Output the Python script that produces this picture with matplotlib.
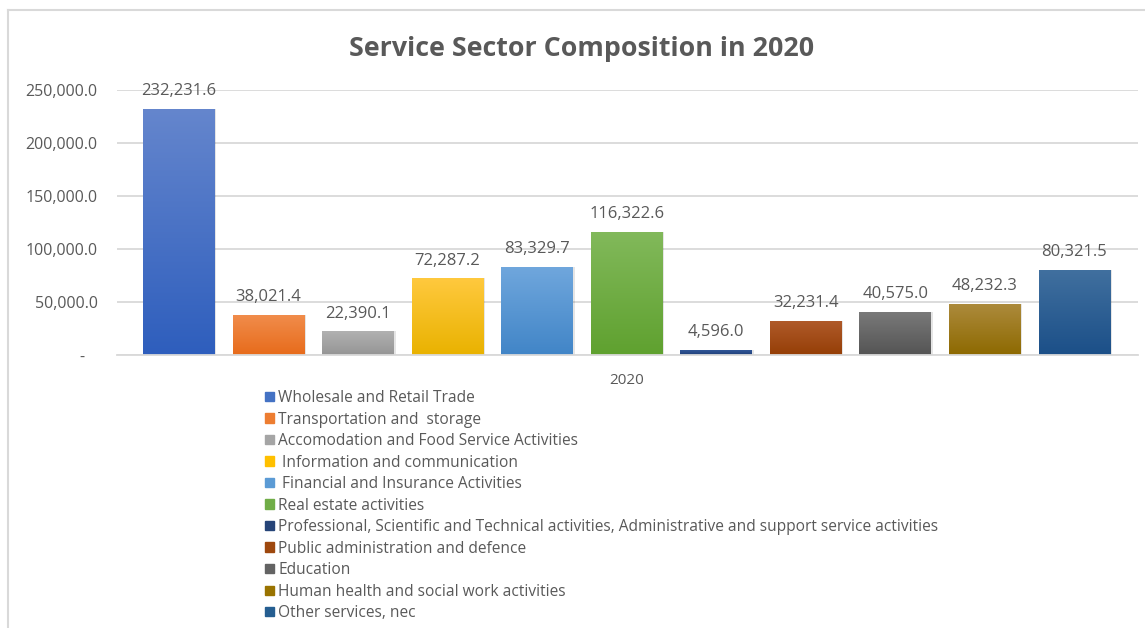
import numpy as np
import matplotlib
matplotlib.use("Agg")
import matplotlib.pyplot as plt
from matplotlib.colors import LinearSegmentedColormap
from matplotlib.lines import Line2D

plt.rcParams['font.family'] = ['Open Sans', 'DejaVu Sans']

# sector names (legend) and 2020 values
sectors = [
    "Wholesale and Retail Trade",
    "Transportation and  storage",
    "Accomodation and Food Service Activities",
    " Information and communication",
    " Financial and Insurance Activities",
    "Real estate activities",
    "Professional, Scientific and Technical activities, Administrative and support service activities",
    "Public administration and defence",
    "Education",
    "Human health and social work activities",
    "Other services, nec",
]
values = [232231.6, 38021.4, 22390.1, 72287.2, 83329.7, 116322.6,
          4596.0, 32231.4, 40575.0, 48232.3, 80321.5]
year = "2020"

# gradient (top, bottom) per bar, office-style palette
top_colors = ["#6586cd", "#f18d4c", "#b1b1b1", "#ffc93e", "#70a7dd", "#82b95b",
              "#305698", "#b05b2b", "#7a7a7a", "#ad8b3d", "#41709f"]
bottom_colors = ["#2e5ebd", "#e76b1b", "#959595", "#e9b200", "#4185c7", "#5fa12f",
                 "#203f78", "#953e06", "#545454", "#8d6900", "#1b4f88"]
legend_colors = ["#4472c4", "#ed7d31", "#a5a5a5", "#ffc000", "#5b9bd5", "#70ad47",
                 "#264478", "#9e480e", "#636363", "#997300", "#255e91"]

text_color = "#595959"
grid_color = "#d9d9d9"

fig = plt.figure(figsize=(11.45, 6.28), dpi=100)
ax = fig.add_axes([117 / 1145, 1 - 355 / 628, (1138 - 117) / 1145, (355 - 90) / 628])

x = np.arange(len(values))
bars = ax.bar(x, values, width=0.8, color="none", edgecolor="none", zorder=3)

# fill each bar with a vertical gradient clipped to its rectangle
for b, c_top, c_bot in zip(bars, top_colors, bottom_colors):
    cmap = LinearSegmentedColormap.from_list("g", [c_bot, c_top])
    grad = np.linspace(0, 1, 256).reshape(-1, 1)
    x0, y0 = b.get_x(), b.get_y()
    w, h = b.get_width(), b.get_height()
    # soft shadow behind the bar
    ax.bar(x0 + w / 2 + 0.02, h, width=w, bottom=0, color="#000000",
           alpha=0.10, edgecolor="none", zorder=2)
    im = ax.imshow(grad, cmap=cmap, origin="lower", aspect="auto",
                   extent=[x0, x0 + w, y0, y0 + h], zorder=3)
    im.set_clip_path(b)

for xi, v in zip(x, values):
    ax.annotate(f"{v:,.1f}", (xi, v), xytext=(0, 7), textcoords="offset points",
                ha="center", va="bottom", fontsize=12, color=text_color, zorder=4)

ax.set_xlim(-0.69, 10.71)
ax.set_ylim(0, 250000)
yt = [0, 50000, 100000, 150000, 200000, 250000]
ax.set_yticks(yt)
ax.set_yticklabels(["-   "] + [f"{t:,.1f}" for t in yt[1:]])
ax.set_xticks([5])
ax.set_xticklabels([year])
ax.tick_params(axis="y", length=0, pad=14, labelsize=11.5, labelcolor=text_color)
ax.tick_params(axis="x", length=0, pad=13, labelsize=11, labelcolor=text_color)
ax.yaxis.grid(True, color=grid_color, linewidth=1.3, zorder=0)
ax.set_axisbelow(True)
for s in ["top", "right", "left"]:
    ax.spines[s].set_visible(False)
ax.spines["bottom"].set_color(grid_color)
ax.spines["bottom"].set_linewidth(1.3)
ax.spines["bottom"].set_zorder(5)

fig.text(582 / 1145, 1 - 49 / 628, "Service Sector Composition in 2020",
         ha="center", va="center", fontsize=19.3, fontweight="bold", color=text_color)

handles = [plt.Rectangle((0, 0), 1, 1, color=c) for c in legend_colors]
fig.legend(handles, sectors, loc="upper left", bbox_to_anchor=(265 / 1145, 1 - 390 / 628),
           frameon=False, fontsize=11.2, labelcolor=text_color, handlelength=0.55,
           handleheight=0.55, handletextpad=0.3, labelspacing=0.355, borderpad=0,
           borderaxespad=0)

# chart border
fig.add_artist(Line2D([8 / 1145, 8 / 1145], [0, 1 - 10 / 628], transform=fig.transFigure,
                      color=grid_color, linewidth=1.5))
fig.add_artist(Line2D([8 / 1145, 1], [1 - 10 / 628, 1 - 10 / 628], transform=fig.transFigure,
                      color=grid_color, linewidth=1.5))

fig.savefig("out.png", dpi=100)
